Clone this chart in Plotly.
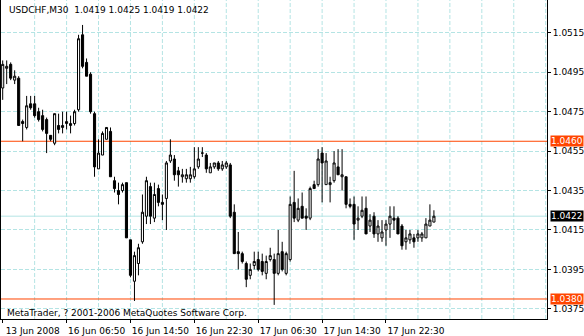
import plotly.graph_objects as go

symbol = "USDCHF,M30"
copyright_text = "MetaTrader, ? 2001-2006 MetaQuotes Software Corp."

time_labels = ["13 Jun 2008", "16 Jun 06:50", "16 Jun 14:50", "16 Jun 22:30",
               "17 Jun 06:30", "17 Jun 14:30", "17 Jun 22:30"]
label_bars = [0, 16, 32, 48, 64, 80, 96]

price_ticks = [1.0375, 1.0395, 1.0415, 1.0435, 1.0455, 1.0475, 1.0495, 1.0515]
level_lines = [1.0460, 1.0380]

opens = [1.0487, 1.0497, 1.0499, 1.0491, 1.0492, 1.0470, 1.0467, 1.0479, 1.0479, 1.0475,
         1.0473, 1.0471, 1.0463, 1.0459, 1.0468, 1.0467, 1.0469, 1.0468, 1.0469, 1.0476,
         1.0514, 1.0500, 1.0494, 1.0474, 1.0446, 1.0453, 1.0461, 1.0465, 1.0440, 1.0435,
         1.0435, 1.0439, 1.0410, 1.0389, 1.0398, 1.0409, 1.0422, 1.0437, 1.0421, 1.0436,
         1.0429, 1.0431, 1.0450, 1.0451, 1.0445, 1.0442, 1.0441, 1.0441, 1.0442, 1.0447,
         1.0454, 1.0453, 1.0444, 1.0447, 1.0449, 1.0446, 1.0447, 1.0448, 1.0424, 1.0404,
         1.0403, 1.0398, 1.0392, 1.0397, 1.0400, 1.0399, 1.0393, 1.0400, 1.0400, 1.0393,
         1.0404, 1.0393, 1.0400, 1.0429, 1.0420, 1.0427, 1.0422, 1.0421, 1.0438, 1.0438,
         1.0454, 1.0438, 1.0438, 1.0440, 1.0447, 1.0442, 1.0442, 1.0428, 1.0428, 1.0420,
         1.0422, 1.0426, 1.0417, 1.0422, 1.0413, 1.0411, 1.0415, 1.0418, 1.0421, 1.0421,
         1.0417, 1.0409, 1.0410, 1.0411, 1.0411, 1.0411, 1.0411, 1.0417, 1.0419]

highs = [1.0501, 1.0501, 1.0500, 1.0496, 1.0493, 1.0471, 1.0483, 1.0483, 1.0483, 1.0477,
         1.0476, 1.0472, 1.0463, 1.0474, 1.0474, 1.0475, 1.0475, 1.0473, 1.0476, 1.0514,
         1.0519, 1.0502, 1.0495, 1.0475, 1.0461, 1.0465, 1.0467, 1.0467, 1.0442, 1.0439,
         1.0439, 1.0439, 1.0410, 1.0404, 1.0408, 1.0433, 1.0442, 1.0439, 1.0439, 1.0438,
         1.0433, 1.0450, 1.0461, 1.0453, 1.0447, 1.0446, 1.0446, 1.0447, 1.0457, 1.0457,
         1.0457, 1.0454, 1.0449, 1.0449, 1.0450, 1.0450, 1.0450, 1.0449, 1.0428, 1.0414,
         1.0404, 1.0399, 1.0398, 1.0404, 1.0404, 1.0403, 1.0402, 1.0406, 1.0403, 1.0415,
         1.0409, 1.0404, 1.0432, 1.0445, 1.0431, 1.0434, 1.0426, 1.0437, 1.0440, 1.0456,
         1.0457, 1.0454, 1.0442, 1.0455, 1.0456, 1.0456, 1.0442, 1.0431, 1.0432, 1.0427,
         1.0432, 1.0432, 1.0423, 1.0424, 1.0420, 1.0420, 1.0420, 1.0427, 1.0427, 1.0422,
         1.0418, 1.0415, 1.0415, 1.0413, 1.0415, 1.0414, 1.0421, 1.0428, 1.0425]

lows = [1.0481, 1.0489, 1.0491, 1.0489, 1.0468, 1.0460, 1.0466, 1.0476, 1.0472, 1.0470,
        1.0465, 1.0454, 1.0460, 1.0458, 1.0464, 1.0464, 1.0466, 1.0464, 1.0468, 1.0475,
        1.0497, 1.0493, 1.0474, 1.0442, 1.0446, 1.0453, 1.0461, 1.0442, 1.0434, 1.0428,
        1.0434, 1.0411, 1.0391, 1.0379, 1.0392, 1.0408, 1.0418, 1.0418, 1.0419, 1.0427,
        1.0420, 1.0415, 1.0449, 1.0440, 1.0437, 1.0439, 1.0439, 1.0439, 1.0441, 1.0446,
        1.0452, 1.0444, 1.0444, 1.0446, 1.0445, 1.0445, 1.0446, 1.0421, 1.0403, 1.0395,
        1.0398, 1.0386, 1.0390, 1.0395, 1.0394, 1.0392, 1.0390, 1.0399, 1.0377, 1.0392,
        1.0394, 1.0392, 1.0399, 1.0419, 1.0419, 1.0421, 1.0415, 1.0420, 1.0436, 1.0437,
        1.0429, 1.0438, 1.0429, 1.0439, 1.0443, 1.0435, 1.0426, 1.0426, 1.0410, 1.0415,
        1.0421, 1.0413, 1.0414, 1.0411, 1.0409, 1.0409, 1.0407, 1.0411, 1.0415, 1.0413,
        1.0405, 1.0405, 1.0408, 1.0406, 1.0409, 1.0409, 1.0411, 1.0417, 1.0419]

closes = [1.0499, 1.0498, 1.0492, 1.0493, 1.0468, 1.0469, 1.0478, 1.0477, 1.0473, 1.0471,
          1.0466, 1.0464, 1.0461, 1.0474, 1.0466, 1.0468, 1.0470, 1.0469, 1.0475, 1.0512,
          1.0498, 1.0493, 1.0475, 1.0447, 1.0454, 1.0464, 1.0467, 1.0442, 1.0436, 1.0433,
          1.0438, 1.0411, 1.0392, 1.0402, 1.0406, 1.0424, 1.0440, 1.0422, 1.0433, 1.0429,
          1.0428, 1.0449, 1.0453, 1.0443, 1.0443, 1.0443, 1.0443, 1.0443, 1.0446, 1.0451,
          1.0454, 1.0446, 1.0447, 1.0449, 1.0446, 1.0448, 1.0449, 1.0422, 1.0403, 1.0403,
          1.0399, 1.0390, 1.0395, 1.0399, 1.0395, 1.0394, 1.0399, 1.0402, 1.0393, 1.0403,
          1.0395, 1.0403, 1.0428, 1.0421, 1.0426, 1.0421, 1.0421, 1.0436, 1.0436, 1.0451,
          1.0449, 1.0450, 1.0439, 1.0449, 1.0443, 1.0443, 1.0428, 1.0427, 1.0418, 1.0421,
          1.0425, 1.0413, 1.0420, 1.0413, 1.0417, 1.0414, 1.0418, 1.0422, 1.0420, 1.0413,
          1.0407, 1.0411, 1.0413, 1.0409, 1.0413, 1.0413, 1.0418, 1.0420, 1.0422]

bars = list(range(len(opens)))

FONT = "DejaVu Sans"
GRID = "#b4e4e4"
ORANGE = "#ff4500"
X_RANGE = [-0.425, 136.325]
GRID_STEP = 8

fig = go.Figure()
fig.add_trace(go.Candlestick(
    x=bars, open=opens, high=highs, low=lows, close=closes,
    increasing=dict(fillcolor="white", line=dict(color="black", width=1)),
    decreasing=dict(fillcolor="black", line=dict(color="black", width=1)),
    whiskerwidth=0, hoverinfo="skip", showlegend=False,
))

# vertical dashed grid every GRID_STEP bars
for g in range(GRID_STEP, int(X_RANGE[1]) + 1, GRID_STEP):
    fig.add_shape(type="line", xref="x", x0=g, x1=g, yref="paper", y0=0, y1=1,
                  line=dict(color=GRID, width=1, dash="4px,2px"), layer="below")

# horizontal level lines
for lv in level_lines:
    fig.add_shape(type="line", xref="paper", x0=0, x1=1, yref="y", y0=lv, y1=lv,
                  line=dict(color=ORANGE, width=1), layer="below")
# bid line at last close
fig.add_shape(type="line", xref="paper", x0=0, x1=1, yref="y", y0=closes[-1], y1=closes[-1],
              line=dict(color=GRID, width=1), layer="below")

annotations = []
for lv in level_lines:
    annotations.append(dict(xref="paper", x=1, xanchor="left", xshift=3, yref="y", y=lv,
                            yanchor="middle", text=f"{lv:.4f}", showarrow=False,
                            bgcolor=ORANGE, borderpad=0,
                            font=dict(family=FONT, size=9, color="white")))
annotations.append(dict(xref="paper", x=1, xanchor="left", xshift=3, yref="y", y=closes[-1],
                        yanchor="middle", text=f"{closes[-1]:.4f}", showarrow=False,
                        bgcolor="black", borderpad=0,
                        font=dict(family=FONT, size=9, color="white")))
annotations.append(dict(xref="paper", x=0, xshift=6, xanchor="left", yref="paper", y=1, yshift=-3,
                        yanchor="top", showarrow=False,
                        text=f"{symbol}  {opens[-1]:.4f} {highs[-1]:.4f} {lows[-1]:.4f} {closes[-1]:.4f}",
                        font=dict(family=FONT, size=9, color="black")))
annotations.append(dict(xref="paper", x=0, xshift=4, xanchor="left", yref="paper", y=0, yshift=6,
                        yanchor="middle", showarrow=False, text=copyright_text,
                        font=dict(family=FONT, size=9, color="black")))

fig.update_layout(
    width=584, height=336,
    margin=dict(l=1, r=36, t=0, b=13, pad=0),
    paper_bgcolor="white", plot_bgcolor="white",
    font=dict(family=FONT, size=9, color="black"),
    boxgap=0.25,
    showlegend=False,
    annotations=annotations,
    xaxis=dict(
        range=X_RANGE, rangeslider=dict(visible=False),
        tickmode="array", tickvals=label_bars, ticktext=time_labels,
        ticks="outside", ticklen=3, tickcolor="black", ticklabelshift=30,
        showgrid=False,
        showline=True, linecolor="black", linewidth=1, mirror=False,
        zeroline=False, tickfont=dict(family=FONT, size=9),
    ),
    yaxis=dict(
        range=[1.036985, 1.053165], side="right",
        tickmode="array", tickvals=price_ticks, ticktext=[f"{p:.4f}" for p in price_ticks],
        ticks="outside", ticklen=3, tickcolor="black",
        showgrid=True, gridcolor=GRID, griddash="4px,2px", gridwidth=1,
        showline=True, linecolor="black", linewidth=1, mirror=True,
        zeroline=False, tickfont=dict(family=FONT, size=9),
    ),
)

fig.write_html("out.html")
